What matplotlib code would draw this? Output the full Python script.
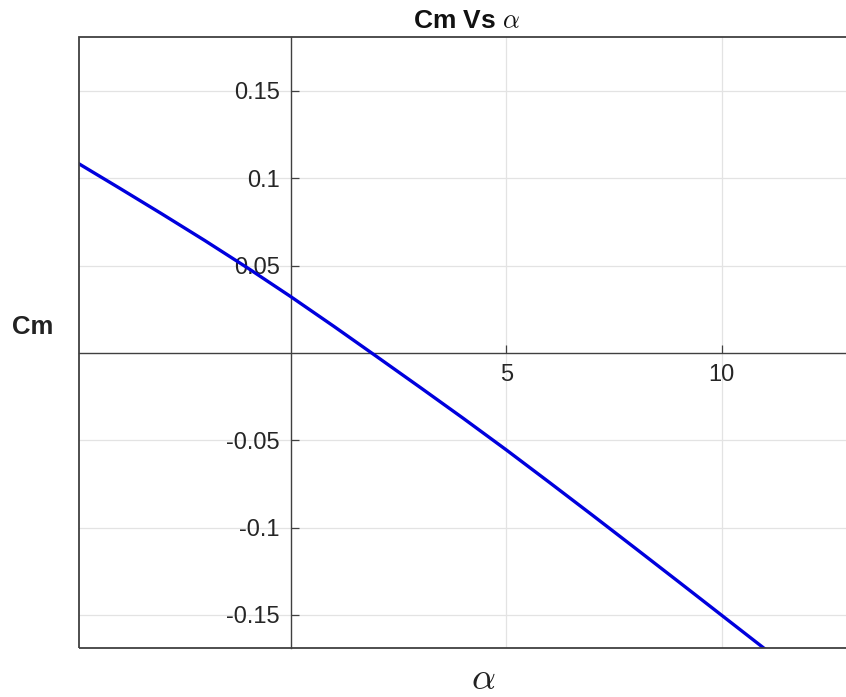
import matplotlib
matplotlib.use("Agg")
import matplotlib.pyplot as plt
from matplotlib.patches import Rectangle

plt.rcParams["font.family"] = ["Liberation Sans", "DejaVu Sans"]
plt.rcParams["mathtext.fontset"] = "cm"

# Cm at integer angles of attack
alpha = [-5, -4, -3, -2, -1, 0, 1, 2, 3, 4, 5, 6, 7, 8, 9, 10, 11]
cm = [0.1095, 0.0947, 0.0797, 0.0644, 0.0486, 0.0322, 0.0152, -0.0022,
      -0.0197, -0.0374, -0.0555, -0.0741, -0.0929, -0.1119, -0.1310,
      -0.1502, -0.1694]

xticks = [5, 10]
xticklabels = ["5", "10"]
yticks = [-0.15, -0.1, -0.05, 0.05, 0.1, 0.15]
yticklabels = ["-0.15", "-0.1", "-0.05", "0.05", "0.1", "0.15"]

W, H = 846, 697
fig = plt.figure(figsize=(W / 100, H / 100), dpi=100)
fig.patch.set_facecolor("white")

# axes box in pixels: left 78.5, right ~851 (runs past the figure edge), top 37, bottom 648
ax = fig.add_axes([78.5 / W, 49 / H, (851 - 78.5) / W, 611 / H])
ax.set_facecolor("white")

ax.plot(alpha, cm, color="#0000dd", linewidth=2.4, zorder=3)

ax.set_xlim(-4.93, 13)
ax.set_ylim(-0.1689, 0.1809)

axis_col = "#404040"
ax.spines["left"].set_position(("data", 0))
ax.spines["bottom"].set_position(("data", 0))
ax.spines["top"].set_visible(False)
ax.spines["right"].set_visible(False)
for s in ("left", "bottom"):
    ax.spines[s].set_color(axis_col)
    ax.spines[s].set_linewidth(1.0)

# outer frame
ax.add_patch(Rectangle((0, 0), 1, 1, transform=ax.transAxes, fill=False,
                       edgecolor=axis_col, linewidth=1.3, clip_on=False, zorder=4))

ax.set_xticks(xticks)
ax.set_xticklabels(xticklabels)
ax.set_yticks(yticks)
ax.set_yticklabels(yticklabels)
ax.tick_params(direction="in", length=6, width=0.9, color=axis_col,
               labelcolor="#262626", labelsize=17, pad=8)

ax.grid(True, color="#e3e3e3", linewidth=0.9, zorder=0)
ax.set_axisbelow(True)

fig.text(467 / W, 1 - 28 / H, r"Cm Vs $\alpha$", ha="center", va="baseline",
         fontsize=19, fontweight="bold", color="#111111")
fig.text(33 / W, 1 - 327 / H, "Cm", ha="center", va="center",
         fontsize=18.5, fontweight="bold", color="#222222")
fig.text(483 / W, 1 - 689 / H, r"$\alpha$", ha="center", va="baseline",
         fontsize=27, color="#222222")

fig.savefig("out.png", dpi=100, facecolor="white")
